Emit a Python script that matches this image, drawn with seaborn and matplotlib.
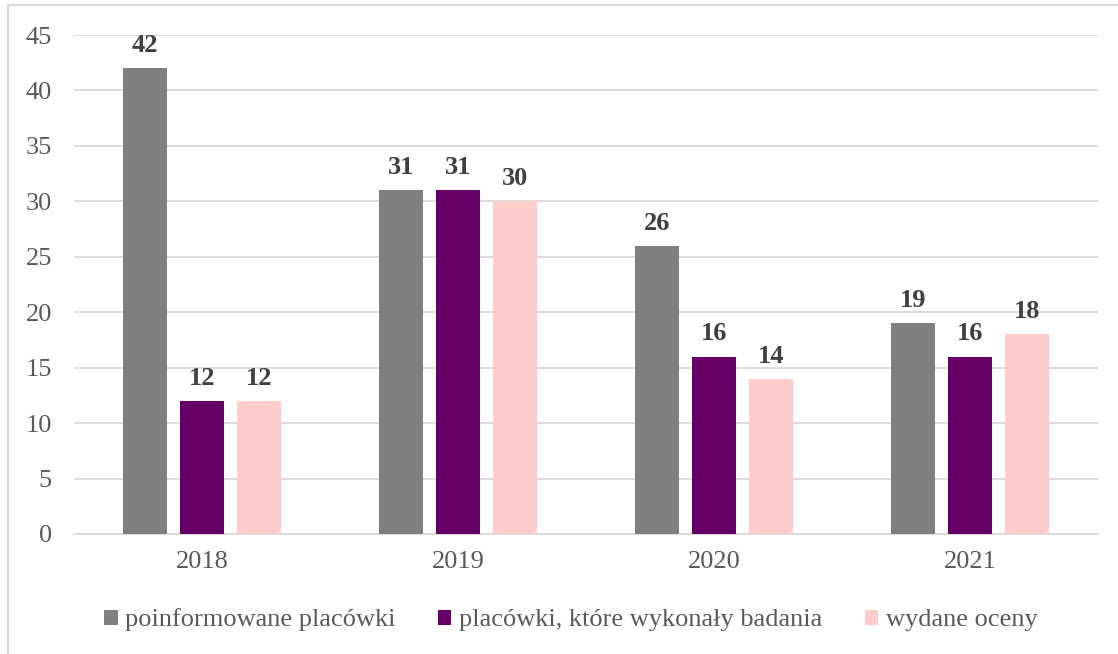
import matplotlib
matplotlib.use("Agg")
import matplotlib.pyplot as plt
import seaborn as sns
import pandas as pd
from matplotlib.patches import Rectangle

years = ["2018", "2019", "2020", "2021"]
series_names = ["poinformowane placówki", "placówki, które wykonały badania", "wydane oceny"]
poinformowane = [42, 31, 26, 19]
wykonaly = [12, 31, 16, 16]
oceny = [12, 30, 14, 18]
colors = ["#7F7F7F", "#660066", "#FFCCCC"]
y_ticks = [0, 5, 10, 15, 20, 25, 30, 35, 40, 45]

rows = []
for name, vals in zip(series_names, [poinformowane, wykonaly, oceny]):
    for y, v in zip(years, vals):
        rows.append({"rok": y, "seria": name, "wartosc": v})
df = pd.DataFrame(rows)

sns.set_theme(style="white")
plt.rcParams["font.family"] = ["Liberation Serif", "DejaVu Serif"]

fig = plt.figure(figsize=(11.18, 6.54), dpi=100)
ax = fig.add_axes([74 / 1118, 1 - 534 / 654, (1098 - 74) / 1118, (534 - 35) / 654])

sns.barplot(data=df, x="rok", y="wartosc", hue="seria", order=years,
            hue_order=series_names, palette=colors, width=0.668, gap=0.23,
            saturation=1, ax=ax, legend=True, zorder=3, linewidth=0)

for cont in ax.containers:
    ax.bar_label(cont, labels=[f"{int(v)}" for v in cont.datavalues], padding=8,
                 fontsize=19, fontweight="bold", color="#404040")

ax.set_ylim(0, 45)
ax.set_yticks(y_ticks)
ax.set_xlim(-0.5, 3.5)
ax.grid(axis="y", color="#D9D9D9", linewidth=1.3, zorder=0)
ax.set_axisbelow(True)
for s in ["top", "right", "left"]:
    ax.spines[s].set_visible(False)
ax.spines["bottom"].set_color("#D9D9D9")
ax.spines["bottom"].set_linewidth(1.3)
ax.set_xlabel("")
ax.set_ylabel("")
ax.tick_params(axis="both", length=0, labelsize=19, labelcolor="#595959")
ax.tick_params(axis="x", pad=12)
ax.tick_params(axis="y", pad=16)

handles, labels = ax.get_legend_handles_labels()
ax.get_legend().remove()
fig.legend(handles, labels, loc="center", bbox_to_anchor=(571 / 1118, 1 - 620 / 654),
           ncol=3, frameon=False, fontsize=19, handlelength=0.5, handleheight=0.5,
           handletextpad=0.3, columnspacing=1.6, labelcolor="#595959")

fig.patches.append(Rectangle((8 / 1118, -0.1), 1.2, 1 - 5.5 / 654 + 0.1,
                             transform=fig.transFigure, fill=False,
                             edgecolor="#D9D9D9", linewidth=1.5))

fig.savefig("out.png", dpi=100)
